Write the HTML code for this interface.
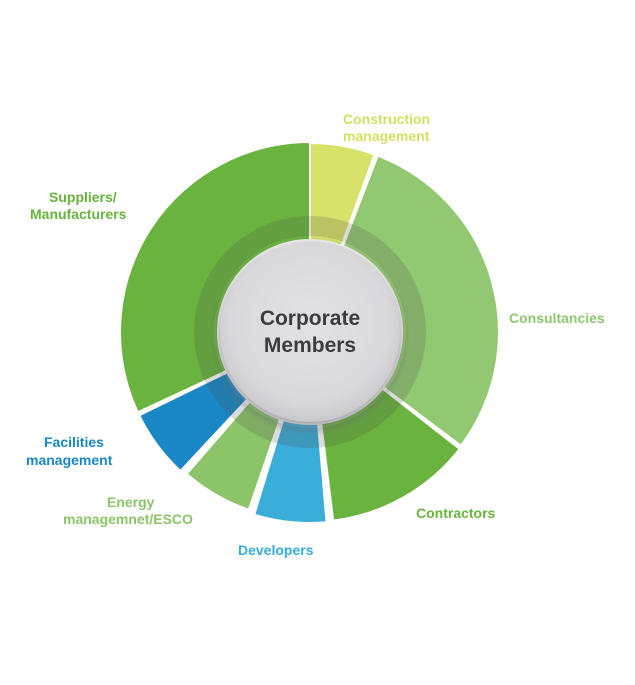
<!DOCTYPE html>
<html><head><meta charset="utf-8"><style>
html,body{margin:0;padding:0;background:#fff;width:635px;height:685px;overflow:hidden}
svg{display:block}
text{font-family:"Liberation Sans",sans-serif;font-weight:bold;font-size:14px}
</style></head><body>
<svg id="s" width="635" height="685" viewBox="0 0 635 685">
<defs>
<radialGradient id="g" cx="50%" cy="45%" r="55%">
<stop offset="0" stop-color="#e2e2e4"/><stop offset="0.8" stop-color="#d9d9db"/><stop offset="1" stop-color="#c9c9cc"/>
</radialGradient>
<radialGradient id="sh" cx="50%" cy="50%" r="50%">
<stop offset="0.85" stop-color="#6a6a6e" stop-opacity="0.6"/><stop offset="1" stop-color="#6a6a6e" stop-opacity="0"/>
</radialGradient>
</defs>
<g id="segs"></g>
<circle cx="310" cy="332" r="106" fill="none" stroke="#4a4a4a" stroke-opacity="0.2" stroke-width="20"/>
<circle cx="310" cy="336" r="100" fill="url(#sh)"/>
<circle cx="310" cy="332" r="90" fill="url(#g)"/>
<text x="310" y="325" text-anchor="middle" fill="#3c3c3e" style="font-size:21px">Corporate</text>
<text x="310" y="352" text-anchor="middle" fill="#3c3c3e" style="font-size:21px">Members</text>
<g fill="#d3df60"><text x="343" y="124">Construction</text><text x="343" y="141">management</text></g>
<g fill="#67b33d"><text x="49" y="202">Suppliers/</text><text x="30" y="219">Manufacturers</text></g>
<text x="509" y="323" fill="#92c66e">Consultancies</text>
<text x="416" y="518" fill="#67b33d">Contractors</text>
<text x="238" y="555" fill="#37acd9">Developers</text>
<g fill="#1a86c5"><text x="44" y="447">Facilities</text><text x="26" y="465">management</text></g>
<g fill="#8cc46a"><text x="107" y="507">Energy</text><text x="63" y="524">managemnet/ESCO</text></g>
</svg>
<script>
var cx=310,cy=332,ri=92;
var d=[[0,20,189,"#d6e26a"],[21,127,189,"#93c872"],[128,173,190,"#6ab33e"],[175,197,191,"#3aadd9"],[199,221,188,"#8cc46a"],[223,244,190,"#1a87c6"],[245,360,190,"#6ab33e"]];
function p(a,r){a=a*Math.PI/180;return (cx+r*Math.sin(a)).toFixed(1)+","+(cy-r*Math.cos(a)).toFixed(1);}
var h="";
d.forEach(function(s){var l=(s[1]-s[0])>180?1:0;
h+='<path d="M'+p(s[0],ri)+' L'+p(s[0],s[2])+' A'+s[2]+','+s[2]+' 0 '+l+' 1 '+p(s[1],s[2])+' L'+p(s[1],ri)+' A'+ri+','+ri+' 0 '+l+' 0 '+p(s[0],ri)+' Z" fill="'+s[3]+'" stroke="#fff" stroke-width="2" stroke-linejoin="round"/>';});
document.getElementById("segs").innerHTML=h;
</script>
</body></html>
